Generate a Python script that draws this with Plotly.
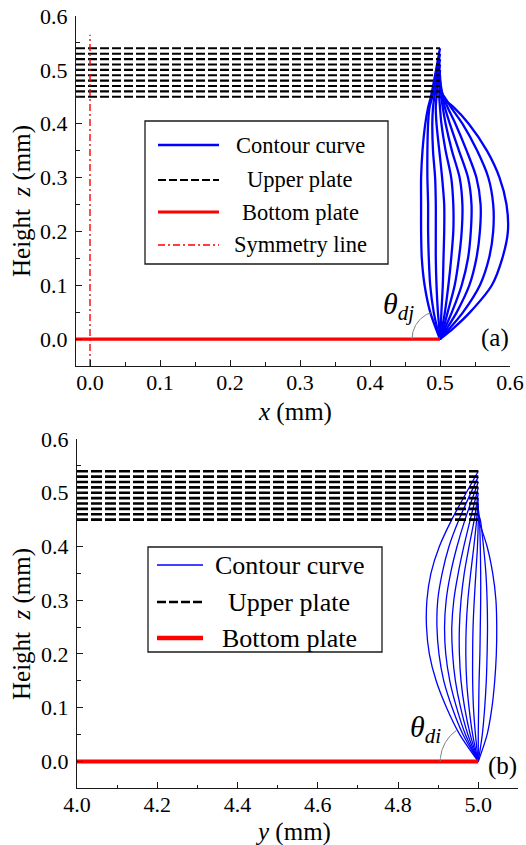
import numpy as np
import plotly.graph_objects as go

W, H = 526, 845
FONT = "Liberation Serif"
BLUE, RED, INK = "#0000ff", "#ff0000", "#1a1a1a"

# gap heights of the upper plate (mm), one contour per gap
GAPS = [0.45, 0.46, 0.47, 0.48, 0.49, 0.50, 0.51, 0.52, 0.53, 0.54]

# (a) x-direction contours: x (mm) at the heights in A_Z, top end meets (0.5, gap)
A_Z = [0.00, 0.02, 0.05, 0.10, 0.15, 0.20, 0.25, 0.30, 0.35, 0.40, 0.43, 0.45]
A_X = [
    [0.500, 0.519, 0.543, 0.574, 0.589, 0.597, 0.595, 0.585, 0.567, 0.541, 0.520, 0.500],
    [0.500, 0.514, 0.533, 0.557, 0.570, 0.576, 0.576, 0.569, 0.553, 0.532, 0.516, 0.506],
    [0.500, 0.510, 0.524, 0.542, 0.552, 0.557, 0.558, 0.552, 0.538, 0.522, 0.511, 0.505],
    [0.500, 0.507, 0.517, 0.531, 0.540, 0.544, 0.545, 0.540, 0.527, 0.514, 0.507, 0.504],
    [0.500, 0.505, 0.511, 0.521, 0.527, 0.531, 0.532, 0.528, 0.517, 0.508, 0.504, 0.502],
    [0.500, 0.503, 0.507, 0.512, 0.516, 0.519, 0.519, 0.516, 0.508, 0.502, 0.500, 0.499],
    [0.500, 0.501, 0.502, 0.504, 0.505, 0.506, 0.506, 0.503, 0.499, 0.495, 0.494, 0.495],
    [0.500, 0.499, 0.497, 0.495, 0.494, 0.494, 0.494, 0.493, 0.490, 0.489, 0.490, 0.492],
    [0.500, 0.496, 0.491, 0.486, 0.484, 0.483, 0.483, 0.482, 0.482, 0.483, 0.485, 0.489],
    [0.500, 0.494, 0.486, 0.478, 0.474, 0.473, 0.473, 0.473, 0.475, 0.479, 0.483, 0.487],
]
A_EDGE = 0.5            # contact point on both plates
A_PLATE = [-0.02, 0.5]  # plate extent along x
A_SYM = [-0.05, 0.565]  # symmetry line extent along z

# (b) y-direction contours: y (mm) at the heights in B_Z, top end meets (5.0, gap)
B_Z = [0.00, 0.05, 0.10, 0.15, 0.20, 0.25, 0.30, 0.35, 0.40, 0.45]
B_X = [
    [5.000, 5.022, 5.034, 5.041, 5.045, 5.046, 5.044, 5.036, 5.022, 5.000],
    [5.000, 5.010, 5.016, 5.020, 5.022, 5.023, 5.022, 5.019, 5.013, 5.005],
    [5.000, 5.000, 5.001, 5.002, 5.004, 5.005, 5.006, 5.006, 5.005, 5.003],
    [5.000, 4.993, 4.988, 4.986, 4.986, 4.987, 4.990, 4.994, 4.998, 5.000],
    [5.000, 4.986, 4.977, 4.971, 4.969, 4.970, 4.974, 4.981, 4.989, 4.996],
    [5.000, 4.980, 4.966, 4.957, 4.953, 4.953, 4.957, 4.965, 4.977, 4.990],
    [5.000, 4.974, 4.956, 4.943, 4.936, 4.934, 4.939, 4.950, 4.964, 4.980],
    [5.000, 4.968, 4.946, 4.929, 4.919, 4.916, 4.920, 4.931, 4.947, 4.967],
    [5.000, 4.962, 4.935, 4.914, 4.902, 4.897, 4.899, 4.910, 4.927, 4.952],
    [5.000, 4.954, 4.921, 4.895, 4.878, 4.871, 4.872, 4.882, 4.903, 4.934],
]
B_EDGE = 5.0
B_PLATE = [4.0, 5.0]

A_XTICKS = [0.0, 0.1, 0.2, 0.3, 0.4, 0.5, 0.6]
B_XTICKS = [4.0, 4.2, 4.4, 4.6, 4.8, 5.0]
Z_TICKS = [0.0, 0.1, 0.2, 0.3, 0.4, 0.5, 0.6]


def px(x):
    return x / W


def py(y):
    return 1 - y / H


fig = go.Figure()


def contour(zs, xs, gap, edge, width, xa, ya):
    z = list(zs)
    x = list(xs)
    if gap > zs[-1]:
        z.append(gap)
        x.append(edge)
    fig.add_trace(go.Scatter(x=x, y=z, mode="lines", xaxis=xa, yaxis=ya,
                             line=dict(color=BLUE, width=width, shape="spline", smoothing=0.8),
                             showlegend=False, hoverinfo="skip"))


def plates(extent, width, dash, bwidth, xa, ya):
    for g in GAPS:
        fig.add_trace(go.Scatter(x=extent, y=[g, g], mode="lines", xaxis=xa, yaxis=ya,
                                 line=dict(color="black", width=width, dash=dash),
                                 showlegend=False, hoverinfo="skip"))
    fig.add_trace(go.Scatter(x=extent, y=[0, 0], mode="lines", xaxis=xa, yaxis=ya,
                             line=dict(color=RED, width=bwidth),
                             showlegend=False, hoverinfo="skip"))


def angle_arc(cx, rx, ry, a0, a1, xa, ya):
    t = np.radians(np.linspace(a0, a1, 40))
    fig.add_trace(go.Scatter(x=cx + rx * np.cos(t), y=ry * np.sin(t), mode="lines",
                             xaxis=xa, yaxis=ya, line=dict(color="#808080", width=1),
                             showlegend=False, hoverinfo="skip"))


# ---- panel (a)
for g, xs in zip(GAPS, A_X):
    contour(A_Z, xs, g, A_EDGE, 2.3, "x", "y")
plates(A_PLATE, 2.1, "9px,3px", 3.2, "x", "y")
fig.add_trace(go.Scatter(x=[0, 0], y=A_SYM, mode="lines", xaxis="x", yaxis="y",
                         line=dict(color=RED, width=1.4, dash="7px,3px,2px,3px"),
                         showlegend=False, hoverinfo="skip"))
angle_arc(A_EDGE, 28 / 700, 28 / 538, 105, 180, "x", "y")

# ---- panel (b)
for g, xs in zip(GAPS, B_X):
    contour(B_Z, xs, g, B_EDGE, 1.3, "x2", "y2")
plates(B_PLATE, 2.6, "11px,3px", 4.0, "x2", "y2")
angle_arc(B_EDGE, 38 / 401, 38 / 539, 125, 180, "x2", "y2")

minor_style = dict(ticks="inside", ticklen=3.5, tickwidth=1.2, tickcolor=INK)
axis_common = dict(showline=True, linecolor=INK, linewidth=1.3, ticks="inside", ticklen=6,
                   tickwidth=1.3, tickcolor=INK, showgrid=False, zeroline=False,
                   automargin=False, mirror=False,
                   tickfont=dict(family=FONT, size=22, color="black"), tickformat=".1f")

fig.update_layout(
    template="none",
    width=W, height=H, margin=dict(l=0, r=0, t=0, b=0, pad=0),
    font=dict(family=FONT, color="black"),
    paper_bgcolor="white", plot_bgcolor="white", showlegend=False,
    xaxis=dict(axis_common, domain=[px(76), px(510)], range=[-0.02, 0.6], ticklabelstandoff=-4,
               tickvals=A_XTICKS, anchor="y", minor=dict(minor_style, dtick=0.05, tick0=0)),
    yaxis=dict(axis_common, domain=[py(366), py(16)], range=[-0.05, 0.6], ticklabelstandoff=3,
               tickvals=Z_TICKS, anchor="x", minor=dict(minor_style, dtick=0.05, tick0=0)),
    xaxis2=dict(axis_common, domain=[px(77), px(518.4)], range=[4.0, 5.1], ticklabelstandoff=-4,
                tickvals=B_XTICKS, anchor="y2", minor=dict(minor_style, dtick=0.1, tick0=4.0)),
    yaxis2=dict(axis_common, domain=[py(788.3), py(439)], range=[-0.05, 0.6], ticklabelstandoff=3,
                tickvals=Z_TICKS, anchor="x2", minor=dict(minor_style, dtick=0.05, tick0=0)),
)

shapes = []
annotations = []


def text(x, y, s, size, angle=0, xanchor="center"):
    annotations.append(dict(x=px(x), y=py(y), xref="paper", yref="paper", text=s,
                            showarrow=False, xanchor=xanchor, yanchor="middle", textangle=angle,
                            font=dict(family=FONT, size=size, color="black")))


# axis titles
text(22, 201, "Height\u00a0\u00a0<i>z</i> (mm)", 25, angle=-90)
text(295, 412, "<i>x</i> (mm)", 25)
text(22, 624, "Height\u00a0\u00a0<i>z</i> (mm)", 25, angle=-90)
text(293, 832, "<i>y</i> (mm)", 25)

# contact-angle labels and panel tags
text(398, 306, "<i>θ</i><sub><i>dj</i></sub>", 30)
text(495, 338, "(a)", 25)
text(425, 729, "<i>θ</i><sub><i>di</i></sub>", 30)
text(502, 766, "(b)", 25)


def legend(box, sample, text_cx, size, rows):
    x0, y0, x1, y1 = box
    shapes.append(dict(type="rect", xref="paper", yref="paper", x0=px(x0), x1=px(x1),
                       y0=py(y1), y1=py(y0), line=dict(color=INK, width=1.3),
                       fillcolor="white", layer="below"))
    for yy, label, line in rows:
        shapes.append(dict(type="line", xref="paper", yref="paper", x0=px(sample[0]),
                           x1=px(sample[1]), y0=py(yy), y1=py(yy), line=line))
        text(text_cx, yy, label, size)


legend((145, 121, 388, 264), (158, 219), 300, 22.5, [
    (145, "Contour curve", dict(color=BLUE, width=2.5)),
    (180, "Upper plate", dict(color="black", width=2.1, dash="8px,3px")),
    (212, "Bottom plate", dict(color=RED, width=3.2)),
    (245, "Symmetry line", dict(color=RED, width=1.3, dash="7px,3px,2px,3px")),
])
legend((148, 547, 382, 652), (157, 203), 289, 26, [
    (565, "Contour curve", dict(color=BLUE, width=1.3)),
    (602, "Upper plate", dict(color="black", width=2.6, dash="9px,3px")),
    (638, "Bottom plate", dict(color=RED, width=4.5)),
])

fig.update_layout(shapes=shapes, annotations=annotations)
fig.write_html("out.html")
